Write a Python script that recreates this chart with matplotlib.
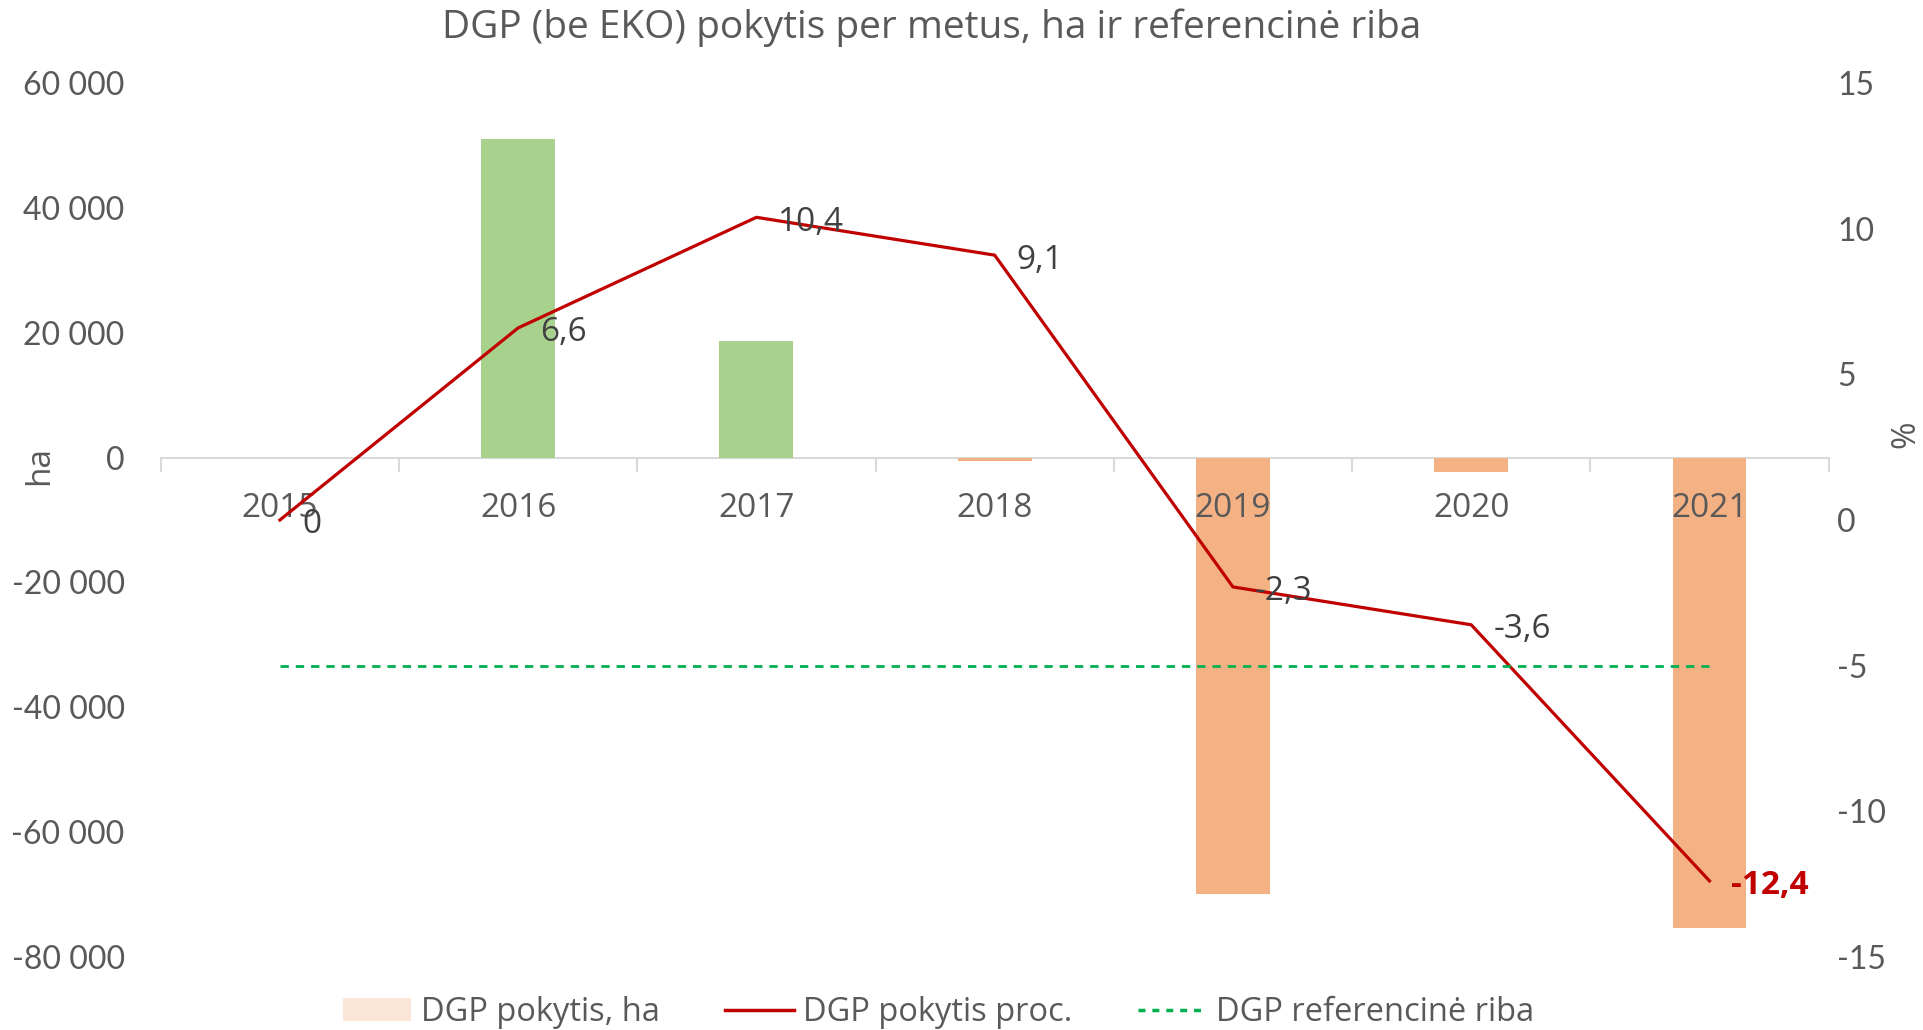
import matplotlib
matplotlib.use("Agg")
import matplotlib.pyplot as plt
from matplotlib.patches import Patch
from matplotlib.lines import Line2D
import numpy as np

years = ["2015", "2016", "2017", "2018", "2019", "2020", "2021"]
change_ha = [0, 51100, 18700, -500, -69900, -2300, -75500]
change_pct = [0, 6.6, 10.4, 9.1, -2.3, -3.6, -12.4]
pct_labels = ["0", "6,6", "10,4", "9,1", "-2,3", "-3,6", "-12,4"]
ref_limit = [-5, -5, -5, -5, -5, -5, -5]
left_ticks = [60000, 40000, 20000, 0, -20000, -40000, -60000, -80000]
right_ticks = [15, 10, 5, 0, -5, -10, -15]

TXT = "#595959"
font_main = ['Open Sans', 'DejaVu Sans']
font_tick = ['Lato', 'DejaVu Sans']

fig = plt.figure(figsize=(19.23, 10.30), dpi=100)
ax = fig.add_axes([0.0836, 0.0713, 0.9509 - 0.0836, 0.919 - 0.0713])
ax2 = ax.twinx()

x = np.arange(len(years))
colors = ["#A9D18E" if v >= 0 else "#F4B183" for v in change_ha]
ax.bar(x, change_ha, width=0.31, color=colors, zorder=2)

ax.set_ylim(-80000, 60000)
ax.set_xlim(-0.5, len(years) - 0.5)
ax2.set_ylim(-15, 15)

for a in (ax, ax2):
    for s in ["top", "right", "left"]:
        a.spines[s].set_visible(False)
ax2.spines["bottom"].set_visible(False)
ax.spines["bottom"].set_position(("data", 0))
ax.spines["bottom"].set_color("#D9D9D9")
ax.spines["bottom"].set_linewidth(1.5)
ax.spines["bottom"].set_zorder(1)

# x ticks: boundaries as major (tick marks), centers as minor (labels)
ax.set_xticks(np.arange(-0.5, len(years), 1.0))
ax.set_xticklabels([])
ax.tick_params(axis="x", which="major", length=10, width=1.5, color="#D9D9D9", direction="out")
ax.set_xticks(x, minor=True)
ax.set_xticklabels(years, minor=True, fontsize=24, color=TXT, family=font_main)
ax.tick_params(axis="x", which="minor", length=0, pad=25)
ax.xaxis.set_zorder(5)

ax.set_yticks(left_ticks)
ax.set_yticklabels([f"{v:,}".replace(",", " ") for v in left_ticks], fontsize=23, color=TXT, family=font_tick)
ax.tick_params(axis="y", length=0, pad=26)
ax2.set_yticks(right_ticks)
ax2.set_yticklabels([str(v) for v in right_ticks], fontsize=23, color=TXT, family=font_tick)
ax2.tick_params(axis="y", length=0, pad=6)

ax2.plot(x, change_pct, color="#C00000", linewidth=2.3, zorder=3)
ax2.plot(x, ref_limit, color="#00B050", linewidth=2, linestyle=(0, (3, 2.5)), zorder=3)

for i, (v, lab) in enumerate(zip(change_pct, pct_labels)):
    last = i == len(change_pct) - 1
    ax2.annotate(lab, (x[i], v), xytext=(22, -5), textcoords="offset pixels",
                 ha="left", va="center", fontsize=24,
                 color="#C00000" if last else "#404040",
                 fontweight="bold" if last else "normal", family=font_main, zorder=6)

fig.text(0.4847, 0.973, "DGP (be EKO) pokytis per metus, ha ir referencinė riba", ha="center", va="center",
         fontsize=28, color=TXT, family=font_main)
fig.text(0.0205, 0.548, "ha", rotation=90, ha="center", va="center", fontsize=24, color=TXT, family=font_main)
fig.text(0.991, 0.578, "%", rotation=90, ha="center", va="center", fontsize=24, color=TXT, family=font_main)

handles = [Patch(facecolor="#FBE5D6", edgecolor="none"),
           Line2D([0], [0], color="#C00000", linewidth=2.5),
           Line2D([0], [0], color="#00B050", linewidth=2.5, linestyle=(0, (2, 2)))]
labels = ["DGP pokytis, ha", "DGP pokytis proc.", "DGP referencinė riba"]
leg = fig.legend(handles, labels, loc="center", bbox_to_anchor=(0.488, 0.017), ncol=3, frameon=False,
                 handlelength=2.1, handletextpad=0.3, columnspacing=2.0,
                 prop={"family": font_main, "size": 23.5})
for t in leg.get_texts():
    t.set_color(TXT)

fig.savefig("out.png", dpi=100)
